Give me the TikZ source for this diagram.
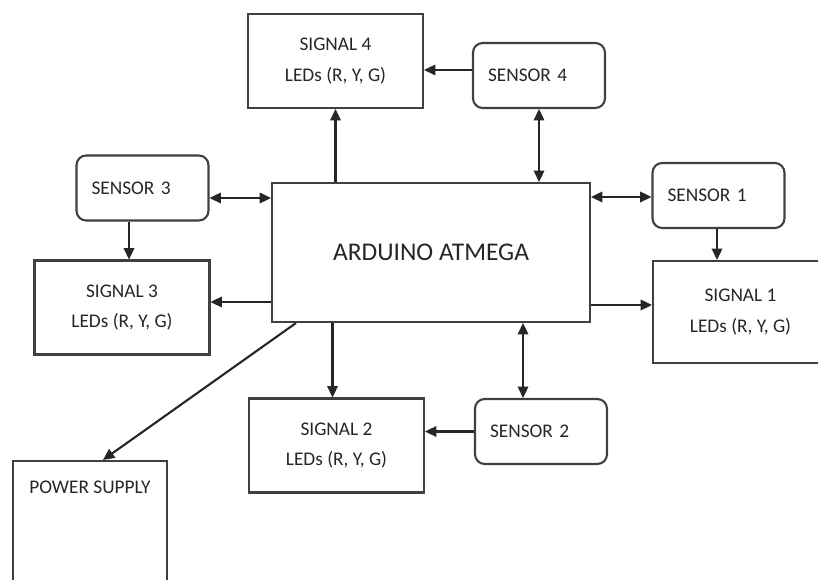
\documentclass[tikz,border=0pt]{standalone}
\usepackage{fontspec}
\setmainfont{Carlito}
\usetikzlibrary{arrows.meta,calc,positioning}

\begin{document}
\begin{tikzpicture}[x=0.02cm, y=-0.02cm,
    sigbox/.style={draw=black!75, line width=1.2pt, minimum width=3.5cm, minimum height=1.88cm, align=center, text=black!85, font=\fontsize{11}{17.5}\selectfont},
    senbox/.style={draw=black!75, line width=1.2pt, rounded corners=5.5pt, text width=2.04cm, inner xsep=0.3cm, minimum height=1.3cm, align=left, text=black!85, font=\fontsize{11}{13}\selectfont},
    arr/.style={-{Triangle[length=6.5pt, width=6pt]}, line width=1.2pt, draw=black!85},
    darr/.style={{Triangle[length=6.5pt, width=6pt]}-{Triangle[length=6.5pt, width=6pt]}, line width=1.2pt, draw=black!85}
]
\useasboundingbox (0,0) rectangle (818,580);

\node[sigbox, minimum width=6.36cm, minimum height=2.78cm, font=\fontsize{14.5}{17}\selectfont] (ard) at (431,252.5) {ARDUINO ATMEGA};

\node[sigbox] (sig4) at (335.5,61) {SIGNAL 4\\LEDs (R, Y, G)};
\node[sigbox] (sig3) at (122,307.5) {SIGNAL 3\\LEDs (R, Y, G)};
\node[sigbox, minimum height=2.04cm] (sig1) at (740.5,312) {SIGNAL 1\\LEDs (R, Y, G)};
\node[sigbox] (sig2) at (336.5,445.5) {SIGNAL 2\\LEDs (R, Y, G)};

\node[senbox] (sen4) at (539,75.5) {SENSOR 4};
\node[senbox] (sen3) at (142.5,188) {SENSOR 3};
\node[senbox] (sen1) at (718.5,195.5) {SENSOR 1};
\node[senbox] (sen2) at (541,431.5) {SENSOR 2};

\node[sigbox, minimum width=3.08cm, minimum height=3cm] (pwr) at (90,536) {};
\node[text=black!85, font=\fontsize{11}{13}\selectfont] (pwrtxt) at (90,487) {POWER SUPPLY};

% top
\draw[arr] (sig4.south |- ard.north) -- (sig4.south);
\draw[arr] ([yshift=0.11cm]sen4.west) -- ([yshift=0.11cm]sen4.west -| sig4.east);
\draw[darr] (sen4.south) -- (sen4.south |- ard.north);

% left
\draw[darr] ([yshift=-0.2cm]sen3.east) -- ([yshift=-0.2cm]sen3.east -| ard.west);
\draw[arr] ([xshift=-0.27cm]sen3.south) -- ([xshift=-0.27cm]sen3.south |- sig3.north);
\draw[arr] ([yshift=0.11cm]sig3.east -| ard.west) -- ([yshift=0.11cm]sig3.east);

% right
\draw[darr] ([yshift=-0.03cm]sen1.west -| ard.east) -- ([yshift=-0.03cm]sen1.west);
\draw[arr] ([xshift=-0.03cm]sen1.south) -- ([xshift=-0.03cm]sen1.south |- sig1.north);
\draw[arr] ([yshift=0.14cm]sig1.west -| ard.east) -- ([yshift=0.14cm]sig1.west);

% bottom
\draw[arr] ([xshift=-0.08cm]sig2.north |- ard.south) -- ([xshift=-0.08cm]sig2.north);
\draw[darr] ([xshift=-0.36cm]sen2.north |- ard.south) -- ([xshift=-0.36cm]sen2.north);
\draw[arr] (sen2.west) -- (sen2.west -| sig2.east);
\draw[arr] ([xshift=0.5cm]ard.south west) -- ([xshift=0.26cm]pwr.north);
\end{tikzpicture}
\end{document}
